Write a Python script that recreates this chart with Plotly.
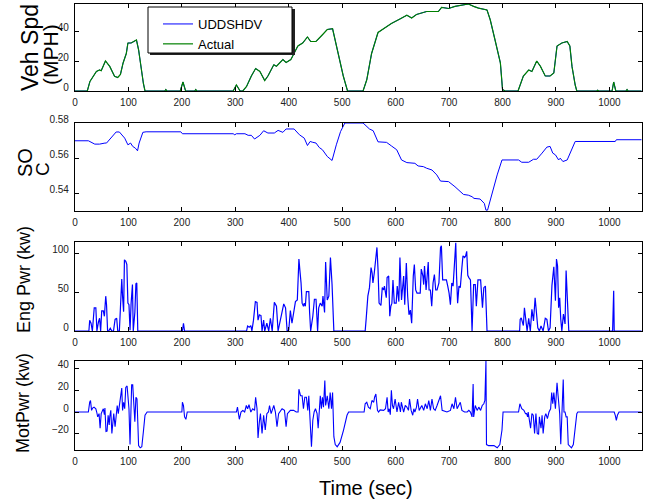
import plotly.graph_objects as go
from plotly.subplots import make_subplots

# ---------------- data (time in s, value) ----------------
speed_cycle = [(0, 0), (23, 0), (28, 6.4), (40, 13), (46, 14), (49, 13.5), (57, 20), (65, 16.4), (74, 9.8),
               (80, 9), (85, 11), (90, 18.7), (96, 25), (99, 32), (105, 32), (111, 33), (115, 34), (119, 27.5),
               (123, 16), (128, 5), (131, 0), (168, 0), (170, 1), (172, 0), (197, 0), (202, 6), (207, 0),
               (224, 0), (226, 1), (228, 0), (296, 0), (302, 4), (309, 0), (314, 0), (321, 3), (330, 10),
               (338, 15), (346, 13), (355, 7), (361, 10), (372, 17.5), (377, 16.5), (389, 21), (395, 19),
               (404, 21), (417, 30), (426, 32), (435, 36), (441, 33), (451, 33), (463, 37.5), (472, 41),
               (482, 41.5), (492, 25), (502, 10), (510, 0), (539, 0), (546, 7.5), (555, 25), (567, 39),
               (580, 42), (592, 45), (608, 48), (621, 50.5), (630, 48.7), (639, 51), (658, 53), (680, 53),
               (686, 55.8), (699, 55), (711, 56.4), (721, 57), (736, 58), (746, 56.4), (755, 55.3), (771, 54),
               (777, 47.5), (786, 34), (796, 18.7), (800, 1), (805, 0), (829, 0), (839, 10), (849, 14),
               (855, 13), (864, 20), (871, 16.4), (880, 10), (889, 10), (896, 12), (902, 30), (911, 32),
               (921, 33), (926, 30), (930, 16.4), (936, 4), (939, 0), (976, 0), (978, 0.5), (980, 0),
               (1005, 0), (1008, 6), (1012, 0), (1031, 0), (1033, 1), (1035, 0), (1060, 0)]

# measured speed follows the schedule so closely that it cannot be told apart in the picture
speed_actual = [(0, 0), (23, 0), (28, 6.4), (40, 13), (46, 14), (49, 13.5), (57, 20), (65, 16.4), (74, 9.8),
                (80, 9), (85, 11), (90, 18.7), (96, 25), (99, 32), (105, 32), (111, 33), (115, 34), (119, 27.5),
                (123, 16), (128, 5), (131, 0), (168, 0), (170, 1), (172, 0), (197, 0), (202, 6), (207, 0),
                (224, 0), (226, 1), (228, 0), (296, 0), (302, 4), (309, 0), (314, 0), (321, 3), (330, 10),
                (338, 15), (346, 13), (355, 7), (361, 10), (372, 17.5), (377, 16.5), (389, 21), (395, 19),
                (404, 21), (417, 30), (426, 32), (435, 36), (441, 33), (451, 33), (463, 37.5), (472, 41),
                (482, 41.5), (492, 25), (502, 10), (510, 0), (539, 0), (546, 7.5), (555, 25), (567, 39),
                (580, 42), (592, 45), (608, 48), (621, 50.5), (630, 48.7), (639, 51), (658, 53), (680, 53),
                (686, 55.8), (699, 55), (711, 56.4), (721, 57), (736, 58), (746, 56.4), (755, 55.3), (771, 54),
                (777, 47.5), (786, 34), (796, 18.7), (800, 1), (805, 0), (829, 0), (839, 10), (849, 14),
                (855, 13), (864, 20), (871, 16.4), (880, 10), (889, 10), (896, 12), (902, 30), (911, 32),
                (921, 33), (926, 30), (930, 16.4), (936, 4), (939, 0), (976, 0), (978, 0.5), (980, 0),
                (1005, 0), (1008, 6), (1012, 0), (1031, 0), (1033, 1), (1035, 0), (1060, 0)]

soc = [(0, 0.5699), (25, 0.5699), (37, 0.568), (46, 0.568), (56, 0.5686), (59, 0.5686), (77, 0.5749),
       (83, 0.5749), (93, 0.5714), (99, 0.5676), (104, 0.5686), (108, 0.5667), (113, 0.5657), (117, 0.5642),
       (120, 0.5686), (127, 0.5747), (133, 0.575), (198, 0.575), (201, 0.5739), (296, 0.5739), (299, 0.5733),
       (302, 0.5739), (318, 0.5739), (324, 0.573), (330, 0.573), (336, 0.5709), (346, 0.573), (353, 0.5756),
       (361, 0.5743), (373, 0.5743), (380, 0.5758), (389, 0.5747), (395, 0.5766), (410, 0.5766),
       (420, 0.5733), (429, 0.5714), (435, 0.5672), (440, 0.5695), (444, 0.5691), (451, 0.5686),
       (457, 0.5661), (463, 0.5648), (472, 0.561), (481, 0.5587), (489, 0.5676), (497, 0.5752),
       (505, 0.58), (539, 0.58), (551, 0.5766), (558, 0.5756), (567, 0.5693), (583, 0.569), (592, 0.567),
       (602, 0.5648), (611, 0.559), (621, 0.5575), (636, 0.5571), (642, 0.5556), (652, 0.5552),
       (658, 0.5543), (668, 0.5533), (677, 0.5505), (684, 0.547), (699, 0.5467), (711, 0.5438),
       (727, 0.5394), (736, 0.539), (744, 0.538), (746, 0.5372), (758, 0.5368), (766, 0.5343),
       (769, 0.5305), (772, 0.5305), (780, 0.54), (790, 0.5505), (799, 0.559), (830, 0.559), (836, 0.5577),
       (849, 0.5577), (858, 0.5594), (864, 0.5594), (874, 0.5629), (883, 0.5663), (889, 0.5667),
       (894, 0.5629), (899, 0.5619), (905, 0.559), (908, 0.56), (913, 0.5581), (921, 0.559), (928, 0.5638),
       (936, 0.5695), (1011, 0.5695), (1013, 0.5705), (1060, 0.5705)]

eng_pwr = [(0, 0), (26, 0), (27.5, 14), (30, 10), (32.5, 0), (34, 12), (36, 30), (39, 30), (41, 0), (44, 12),
           (46, 16.5), (48, 0), (50, 26), (53, 26), (55, 19), (57.5, 45), (59, 34), (61, 0), (63, 0), (66, 3.5),
           (69, 0), (72, 0), (75, 15), (78, 16.5), (80, 0), (83, 0), (86, 55), (87.5, 67), (89, 45), (91, 25),
           (92.5, 92), (95, 90), (97, 86), (99, 36), (101, 34), (103, 1), (105, 36), (107.5, 60), (109, 0),
           (112, 24), (114, 61), (115.6, 62), (117.5, 0), (201, 0), (203, 10), (205, 0), (321, 0), (323, 6.5),
           (326, 5), (329, 7), (331, 0), (334, 14), (337.5, 38), (340.6, 37), (342.5, 14), (345, 21), (348, 20),
           (350, 0), (353, 14), (355, 0), (359, 10), (362.5, 0), (365.6, 16.5), (369, 0), (373, 37), (377, 32),
           (380, 0), (384, 14), (387.5, 27), (390.6, 35), (394, 30), (397, 0), (400, 1), (403, 26.5), (406, 10),
           (410.6, 30), (412.5, 38), (416, 40), (419, 93), (420.6, 80), (423, 62), (425, 36), (427.5, 32),
           (429, 36), (431, 32), (433, 51), (437.5, 51), (439, 24), (441, 0), (445, 19), (448, 41), (451, 41),
           (454, 0), (456, 30), (459, 36), (462.5, 32), (464, 45), (467, 24), (469, 89), (472, 40), (475, 45),
           (478, 95), (481, 60), (484.4, 0), (543, 0), (545, 17), (548, 45), (551, 56), (554, 82), (556, 75),
           (557.5, 62), (560, 75), (563, 101), (565, 108), (567, 80), (569, 36), (572.5, 33), (575, 56),
           (577.5, 53), (579, 58), (582.5, 43), (584, 69), (587, 71), (589, 19), (591, 32), (593, 36), (595, 66),
           (597.5, 36), (601, 36), (603, 58), (606, 38), (608, 95), (611, 40), (612.5, 53), (615, 71), (617, 34),
           (620, 88), (622.5, 45), (625, 21), (627.5, 27), (630, 10), (633, 71), (635, 86), (637.5, 53),
           (640, 49), (646, 49), (648, 80), (651, 71), (652.5, 60), (654, 84), (657, 53), (659, 71), (661, 89),
           (662.5, 53), (665, 53), (667.5, 32), (670, 62), (672.5, 73), (675, 53), (677.5, 53), (681, 62),
           (684, 108), (685.6, 110), (688, 66), (695, 66), (697.5, 58), (700, 49), (702.5, 34), (705, 62),
           (707.5, 58), (710, 95), (712.5, 114), (714, 71), (716, 36), (718.5, 58), (721, 56), (724, 82),
           (726, 97), (729, 95), (731, 97), (733, 103), (735, 72), (737, 69), (740, 66), (743, 0), (746, 60),
           (749, 60), (751, 32), (754, 66), (759, 66), (762.5, 30), (765, 56), (768, 58), (771, 0), (832, 0),
           (833, 15), (835, 17), (837, 13), (839, 7), (841, 30), (844, 13), (846, 0), (849, 16.5), (852, 0),
           (855, 28), (858, 13), (861, 43), (864, 24), (866, 4), (869, 0), (872, 6.5), (876, 0), (880, 16.5),
           (883, 15), (886, 0), (889, 4), (892.5, 59), (896, 83), (899, 39), (901, 93), (903, 84), (905, 30),
           (907, 43), (909, 15), (911, 0), (914, 22), (917, 9), (919, 78), (922, 35), (924, 0), (1006, 0),
           (1008, 52), (1009, 0), (1060, 0)]

mot_pwr = [(0, 0), (25, 0), (27.5, 9), (29, 10.6), (31, 1.5), (33, 3.6), (35.6, 4.5), (39, 3), (40.6, 0),
           (42.5, -4.5), (45, -1.5), (47, -15), (49, -1.5), (51, 1.5), (53, 3), (55, -2.4), (56, 3.6), (58, -18),
           (60, -17.6), (62, -3), (64, -12), (65, -4.5), (67, 1.5), (69, -19.7), (71, -9), (72.5, -1.5),
           (75, -13.6), (77, 1.5), (79, 6), (81, -1.5), (84, 9), (86, 13.6), (87.5, 22), (89, 1.5), (91, 9),
           (93, 3), (95, 22.7), (97.5, 24), (99, 10.6), (101, 3), (103, -30), (104, -12), (106, 25), (108, 25),
           (110, 9), (112, -9), (114, 13.6), (116, 12), (117.5, -9), (119, -31), (122, -33), (125, -32),
           (128, -18), (131, -3), (135, 0), (200, 0), (201, 9), (203, 6), (205, -4.5), (207.5, -6.7), (210, 0),
           (302, 0), (304, 4.5), (307.5, -6.7), (310.6, 0), (314, 1.5), (317.5, 0), (320.6, 6), (323, 3),
           (325.6, 6.7), (329, 0), (332.5, 3), (336, 1.5), (338, 13.6), (340.6, 3), (342.5, -24), (345, -9),
           (347, -1.5), (350, -19.7), (353, -3), (356, -16.6), (359, -1.5), (362, 0), (364, 6), (367, -1.5),
           (372, 6), (375, 0), (378, -13.6), (381, -1.5), (387.5, 3), (392, 1.5), (395, -13.6), (397.5, -1.5),
           (403, 1.5), (409, 1.5), (414, 0), (417.5, 0), (419, 21), (422, 15), (425, 15), (427.5, 3),
           (430, 13.6), (433, 13.6), (435.6, 1.5), (437.5, 15), (439, 0), (442.5, -32), (445, -7.6),
           (447.5, 0), (450, 3), (453, -1.5), (455, -15), (457, 3), (459, 15), (461, 3), (463, 13.6),
           (465, 4.5), (467.5, 29), (469, 6), (472, 15), (475, 3), (477.5, 18), (480, 3), (482, 18),
           (484.4, -22.7), (487, -30), (490.6, -32), (496, -28), (502.5, -16.6), (509, -3), (512, 0), (541, 0),
           (543, 7.6), (546, 9), (549, 4.5), (552.5, 3), (555.6, 10.6), (559, 9), (560.6, 13.6), (563, 16.6),
           (566, 1.5), (568, 0), (571, 2), (574, 1.5), (577.5, 1.5), (581, 3), (584, 13.6), (586, 0), (588, 3),
           (590, -2.4), (592, 20), (594, 6), (596, 3), (599, 12), (602.5, 0), (605.6, 9), (609, 0), (610.6, 9),
           (612.5, 6), (615, 0), (618, 6), (621, 4.5), (624, 1.5), (626, 12), (629, 1.5), (632, -3), (634, 3),
           (636, 0), (639, 4.5), (641, 12), (644, 1.5), (646, 3), (649, 6), (652.5, 1.5), (655.6, 7.6),
           (659, 3), (662, 10.6), (665, 1.5), (668, 12), (671, 3), (674, 1.5), (677.5, 6), (680.6, 10.6),
           (684, 15), (687, 1.5), (696, 0), (702.5, 1.5), (705.6, 7.6), (709, 3), (712, 13.6), (715, 3),
           (718, 6), (721, 9), (724, 1.5), (729, 0), (734, 0), (737, 1.5), (740, 0), (743, -4.5), (745, 25.7),
           (746, -4.5), (749, 6), (752.5, 1.5), (755.6, 4.5), (759, 1.5), (762, 6), (765, 7.6), (767, 10.6),
           (769, 47), (770, -30), (774, -31), (784, -31), (790, -33), (795, -30), (799, -16.6), (801, 0),
           (830, 0), (832.5, 7.6), (836, 3), (840, 1.5), (843, -1.5), (845, -1.5), (847, -4.5), (848, 0),
           (852.5, -15), (855, -1.5), (857.5, -3), (860, -19.7), (862.5, -1.5), (865, -19.7), (867.5, -20.6),
           (869, -4.5), (872, -15), (874, -3), (876, -19.7), (879, -4.5), (881, -1.5), (884, -6), (887, 0),
           (890, 3), (892, 18), (894, 7.6), (896, 18), (899, 3), (902, 27), (904, 15), (907, -1.5),
           (909, -29.7), (911, -3), (913.6, 30), (915, 0), (917, 0), (919, -4.5), (921, -4.5), (923, -30),
           (929, -33), (932.5, -30), (935.6, -16.6), (939, -1.5), (941, 0), (1009, 0), (1011, -3),
           (1013, -7.6), (1015, -3), (1018, 0), (1060, 0)]

x_ticks = [0, 100, 200, 300, 400, 500, 600, 700, 800, 900, 1000]
spd_ticks = [0, 20, 40]
soc_ticks = [0.54, 0.56, 0.58]
eng_ticks = [0, 50, 100]
mot_ticks = [-20, 0, 20, 40]


def xs(series):
    return [p[0] for p in series]


def ys(series):
    return [p[1] for p in series]


# ---------------- figure ----------------
W, H = 654, 503
ML, MR, MT, MB = 75, 12, 4, 53
PW, PH = W - ML - MR, H - MT - MB


def px_x(px):
    return (px - ML) / PW


def px_y(py):
    return (H - MB - py) / PH


FONT = "Liberation Sans, Arial, sans-serif"
BLUE = "#0000ff"
GREEN = "#008000"

fig = make_subplots(rows=4, cols=1)

fig.add_trace(go.Scatter(x=xs(speed_cycle), y=ys(speed_cycle), mode="lines", name="UDDSHDV",
                         line=dict(color=BLUE, width=1)), row=1, col=1)
fig.add_trace(go.Scatter(x=xs(speed_actual), y=ys(speed_actual), mode="lines", name="Actual",
                         line=dict(color=GREEN, width=1.2)), row=1, col=1)
fig.add_trace(go.Scatter(x=xs(soc), y=ys(soc), mode="lines", showlegend=False,
                         line=dict(color=BLUE, width=1)), row=2, col=1)
fig.add_trace(go.Scatter(x=xs(eng_pwr), y=ys(eng_pwr), mode="lines", showlegend=False,
                         line=dict(color=BLUE, width=1.2)), row=3, col=1)
fig.add_trace(go.Scatter(x=xs(mot_pwr), y=ys(mot_pwr), mode="lines", showlegend=False,
                         line=dict(color=BLUE, width=1.1)), row=4, col=1)

axis_common = dict(showline=True, linecolor="black", linewidth=1.3, mirror="ticks", ticks="inside",
                   ticklen=4, tickwidth=1, tickcolor="black", showgrid=False, zeroline=False,
                   automargin=False, tickfont=dict(family=FONT, size=10, color="#222"))

panels = [  # (top px, bottom px, y range, y ticks)
    (4, 91, [0, 58], spd_ticks),
    (123, 211, [0.53, 0.58], soc_ticks),
    (242, 331, [0, 115], eng_ticks),
    (361, 450, [-35, 47], mot_ticks),
]
for i, (top, bot, yr, yt) in enumerate(panels, start=1):
    fig.update_layout({
        f"xaxis{'' if i == 1 else i}": dict(axis_common, range=[0, 1061], tickvals=x_ticks,
                                             domain=[0, 1], ticklabelstandoff=2),
        f"yaxis{'' if i == 1 else i}": dict(axis_common, range=yr, tickvals=yt,
                                             domain=[px_y(bot), px_y(top)], ticklabelshift=-4,
                                             ticklabelstandoff=3),
    })

annotations = [
    dict(text="Veh Spd", x=px_x(30), y=px_y(48), font=dict(size=23)),
    dict(text="(MPH)", x=px_x(50), y=px_y(55), font=dict(size=21)),
    dict(text="SO", x=px_x(25), y=px_y(163), font=dict(size=20)),
    dict(text="C", x=px_x(43), y=px_y(169), font=dict(size=19)),
    dict(text="Eng Pwr (kw)", x=px_x(24), y=px_y(280), font=dict(size=18)),
    dict(text="MotPwr (kw)", x=px_x(23), y=px_y(403), font=dict(size=18)),
]
for a in annotations:
    a.update(xref="paper", yref="paper", showarrow=False, textangle=-90, xanchor="center", yanchor="middle")
    a["font"].update(family=FONT, color="black")
annotations.append(dict(text="Time (sec)", x=px_x(366), y=px_y(488), xref="paper", yref="paper",
                        showarrow=False, xanchor="center", yanchor="middle",
                        font=dict(family=FONT, size=20, color="black")))

# legend frame with dark shadow (MATLAB style)
shapes = [
    dict(type="rect", xref="paper", yref="paper", x0=px_x(150), x1=px_x(295), y0=px_y(55), y1=px_y(9),
         line=dict(width=0), fillcolor="#222", layer="above"),
    dict(type="rect", xref="paper", yref="paper", x0=px_x(148), x1=px_x(292), y0=px_y(53), y1=px_y(7),
         line=dict(width=1, color="black"), fillcolor="white", layer="above"),
]

fig.update_layout(
    template="none",
    width=W, height=H, margin=dict(l=ML, r=MR, t=MT, b=MB, autoexpand=False),
    paper_bgcolor="white", plot_bgcolor="white",
    font=dict(family=FONT, color="black"),
    annotations=annotations, shapes=shapes,
    showlegend=True,
    legend=dict(x=px_x(158), y=px_y(9), xanchor="left", yanchor="top", bgcolor="rgba(0,0,0,0)",
                borderwidth=0, font=dict(family=FONT, size=13, color="black"), tracegroupgap=0,
                itemwidth=30),
)

fig.write_html("out.html")
